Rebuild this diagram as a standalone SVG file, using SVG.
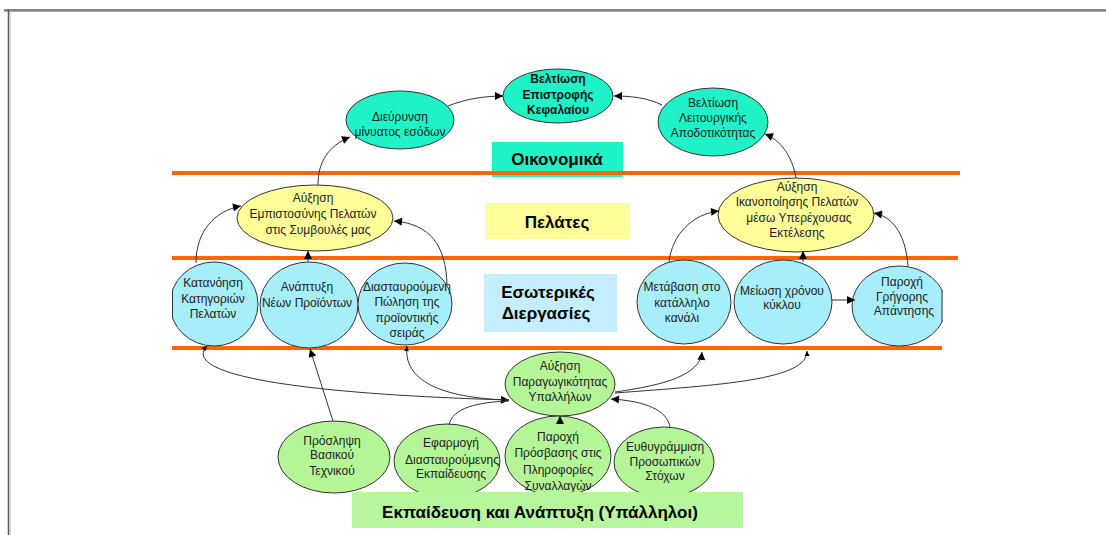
<svg xmlns="http://www.w3.org/2000/svg" width="1106" height="535" viewBox="0 0 1106 535">
<defs>
<style>
.t{font-family:"Liberation Sans",Arial,sans-serif;font-size:12px;fill:#222;text-anchor:middle}
.tb{font-family:"Liberation Sans",Arial,sans-serif;font-size:12px;font-weight:bold;fill:#111;text-anchor:middle}
.cat{font-family:"Liberation Sans",Arial,sans-serif;font-size:17px;font-weight:bold;fill:#000;text-anchor:middle}
.e{stroke:#333;stroke-width:1}
.fin{fill:#1EF2C6}
.cus{fill:#FFFF99}
.int{fill:#A6EEF9}
.lrn{fill:#B3F597}
.band{stroke:#FF6600;stroke-width:4}
.c{fill:none;stroke:#333;stroke-width:1}
</style>
<marker id="ah" viewBox="0 0 10 10" refX="10" refY="5" markerWidth="10" markerHeight="8" orient="auto" markerUnits="userSpaceOnUse"><path d="M0,0 L10,5 L0,10 z" fill="#000"/></marker>
<marker id="ahs" viewBox="0 0 10 10" refX="10" refY="5" markerWidth="6" markerHeight="5" orient="auto-start-reverse" markerUnits="userSpaceOnUse"><path d="M0,0 L10,5 L0,10 z" fill="#000"/></marker>
<clipPath id="clipL"><rect x="172" y="200" width="200" height="200"/></clipPath>
<clipPath id="clipR"><rect x="800" y="200" width="142.5" height="200"/></clipPath>
</defs>
<rect x="0" y="0" width="1106" height="535" fill="#fff"/>
<g id="frame">
<line x1="4" y1="10" x2="1106" y2="10" stroke="#5a5a5a" stroke-width="1.5"/>
<line x1="4" y1="11.5" x2="1106" y2="11.5" stroke="#aaa" stroke-width="1"/>
<line x1="8.5" y1="10" x2="8.5" y2="535" stroke="#5a5a5a" stroke-width="1.5"/>
<line x1="10" y1="12" x2="10" y2="535" stroke="#bbb" stroke-width="1"/>
</g>
<g id="categories">
<g id="cat-finance"><rect x="492" y="142" width="131" height="35" class="fin"/><text x="557" y="165" class="cat">Οικονομικά</text></g>
<g id="cat-customers"><rect x="485" y="203" width="145" height="36" class="cus"/><text x="557" y="228" class="cat">Πελάτες</text></g>
<g id="cat-internal"><rect x="484" y="274" width="133" height="58" fill="#C4EEFD"/><text x="548" y="298" class="cat">Εσωτερικές</text><text x="546" y="319" class="cat">Διεργασίες</text></g>
</g>
<g id="bands">
<line x1="172" y1="173" x2="960" y2="173" class="band"/>
<line x1="172" y1="258" x2="958" y2="258" class="band"/>
<line x1="172" y1="348" x2="942" y2="348" class="band"/>
</g>
<g id="n-roi"><ellipse cx="558" cy="96" rx="55" ry="27" class="e fin"/><text x="558" y="83" class="tb">Βελτίωση</text><text x="558" y="99" class="tb">Επιστροφής</text><text x="558" y="114" class="tb">Κεφαλαίου</text></g>
<g id="n-revenue"><ellipse cx="400" cy="120" rx="54" ry="29" class="e fin"/><text x="400" y="121" class="t">Διεύρυνση</text><text x="400" y="136" class="t">μίνυατος εσόδων</text></g>
<g id="n-efficiency"><ellipse cx="713" cy="122" rx="55" ry="34" class="e fin"/><text x="713" y="107" class="t">Βελτίωση</text><text x="713" y="122" class="t">Λειτουργικής</text><text x="713" y="137" class="t">Αποδοτικότητας</text></g>
<g id="n-trust"><ellipse cx="315" cy="218" rx="78" ry="33" class="e cus"/><text x="313" y="202" class="t">Αύξηση</text><text x="313" y="218" class="t">Εμπιστοσύνης Πελατών</text><text x="318" y="234" class="t">στις Συμβουλές μας</text></g>
<g id="n-satisfaction"><ellipse cx="796" cy="215" rx="78" ry="37" class="e cus"/><text x="797" y="191" class="t">Αύξηση</text><text x="797" y="206" class="t">Ικανοποίησης Πελατών</text><text x="799" y="222" class="t">μέσω Υπερέχουσας</text><text x="797" y="237" class="t">Εκτέλεσης</text></g>
<g id="n-understand"><g clip-path="url(#clipL)"><ellipse cx="214" cy="304" rx="44" ry="42" class="e int"/></g><line x1="172.5" y1="291" x2="172.5" y2="317" stroke="#333"/><text x="213" y="287" class="t">Κατανόηση</text><text x="213" y="303" class="t">Κατηγοριών</text><text x="213" y="318" class="t">Πελατών</text></g>
<g id="n-newprod"><ellipse cx="309" cy="305" rx="49" ry="43" class="e int"/><text x="307" y="291" class="t">Ανάπτυξη</text><text x="307" y="307" class="t">Νέων Προϊόντων</text></g>
<g id="n-cross"><ellipse cx="405" cy="304" rx="47" ry="41" class="e int"/><text x="407" y="291" class="t">Διασταυρούμενη</text><text x="407" y="306" class="t">Πώληση της</text><text x="407" y="322" class="t">προϊοντικής</text><text x="407" y="337" class="t">σειράς</text></g>
<g id="n-channel"><ellipse cx="684" cy="302" rx="47" ry="42" class="e int"/><text x="682" y="291" class="t">Μετάβαση στο</text><text x="682" y="307" class="t">κατάλληλο</text><text x="682" y="322" class="t">κανάλι</text></g>
<g id="n-cycle"><ellipse cx="783" cy="302" rx="49" ry="42" class="e int"/><text x="782" y="295" class="t">Μείωση χρόνου</text><text x="782" y="309" class="t">κύκλου</text></g>
<g id="n-response"><g clip-path="url(#clipR)"><ellipse cx="899" cy="306" rx="47" ry="40" class="e int"/></g><line x1="942" y1="290" x2="942" y2="322" stroke="#333"/><text x="902" y="286" class="t">Παροχή</text><text x="902" y="301" class="t">Γρήγορης</text><text x="904" y="315" class="t">Απάντησης</text></g>
<g id="n-productivity"><ellipse cx="560" cy="384" rx="55" ry="32" class="e lrn"/><text x="560" y="370" class="t">Αύξηση</text><text x="560" y="386" class="t">Παραγωγικότητας</text><text x="560" y="401" class="t">Υπαλλήλων</text></g>
<g id="n-hire"><ellipse cx="334" cy="457" rx="56" ry="36" class="e lrn"/><text x="332" y="445" class="t">Πρόσληψη</text><text x="332" y="459" class="t">Βασικού</text><text x="332" y="475" class="t">Τεχνικού</text></g>
<g id="n-training"><ellipse cx="447" cy="461" rx="53" ry="37" class="e lrn"/><text x="451" y="447" class="t">Εφαρμογή</text><text x="452" y="464" class="t">Διασταυρούμενης</text><text x="451" y="478" class="t">Εκπαίδευσης</text></g>
<g id="n-access"><ellipse cx="558" cy="456" rx="53" ry="40" class="e lrn"/><text x="558" y="441" class="t">Παροχή</text><text x="558" y="457" class="t">Πρόσβασης στις</text><text x="558" y="474" class="t">Πληροφορίες</text><text x="558" y="490" class="t">Συναλλαγών</text></g>
<g id="n-goals"><ellipse cx="664" cy="462" rx="50" ry="35" class="e lrn"/><text x="665" y="451" class="t">Ευθυγράμμιση</text><text x="665" y="466" class="t">Προσωπικών</text><text x="665" y="480" class="t">Στόχων</text></g>
<g id="cat-learning"><rect x="352" y="492" width="391" height="36" fill="#B6F79E"/><text x="540" y="518" class="cat">Εκπαίδευση και Ανάπτυξη (Υπάλληλοι)</text></g>
<g id="connectors">
<path d="M448,106 C465,99 485,96 503,96" class="c" marker-end="url(#ah)"/>
<path d="M662,105 C648,98 632,96 614,96" class="c" marker-end="url(#ah)"/>
<path d="M318,185 C318,162 328,146 350,137" class="c" marker-end="url(#ah)"/>
<path d="M796,178 C792,155 780,140 765,134" class="c" marker-end="url(#ah)"/>
<path d="M196,263 C196,232 214,211 241,206" class="c" marker-end="url(#ah)"/>
<path d="M308,262 L308,251" class="c" marker-end="url(#ah)"/>
<path d="M447,285 C446,245 430,224 394,221" class="c" marker-end="url(#ah)"/>
<path d="M669,262 C672,235 692,214 719,211" class="c" marker-end="url(#ah)"/>
<path d="M803,262 L803,251" class="c" marker-end="url(#ah)"/>
<path d="M908,266 C906,238 895,217 874,213" class="c" marker-end="url(#ah)"/>
<path d="M832,300 L855,300" class="c" marker-end="url(#ah)"/>
<path d="M207,346 C180,375 300,394 509,400" class="c" marker-start="url(#ahs)" marker-end="url(#ah)"/>
<path d="M407,346 C403,380 440,398 509,400" class="c" marker-start="url(#ahs)"/>
<path d="M333,421 L310,349" class="c" marker-end="url(#ah)"/>
<path d="M449,425 C452,408 478,402 509,401" class="c"/>
<path d="M560,423 L560,416" class="c" marker-end="url(#ah)"/>
<path d="M670,428 C668,410 645,401 611,399" class="c" marker-end="url(#ah)"/>
<path d="M615,392 C665,385 700,375 702,352" class="c" marker-end="url(#ah)"/>
<path d="M615,393 C720,385 808,380 807,351" class="c" marker-end="url(#ahs)"/>
</g>
</svg>
